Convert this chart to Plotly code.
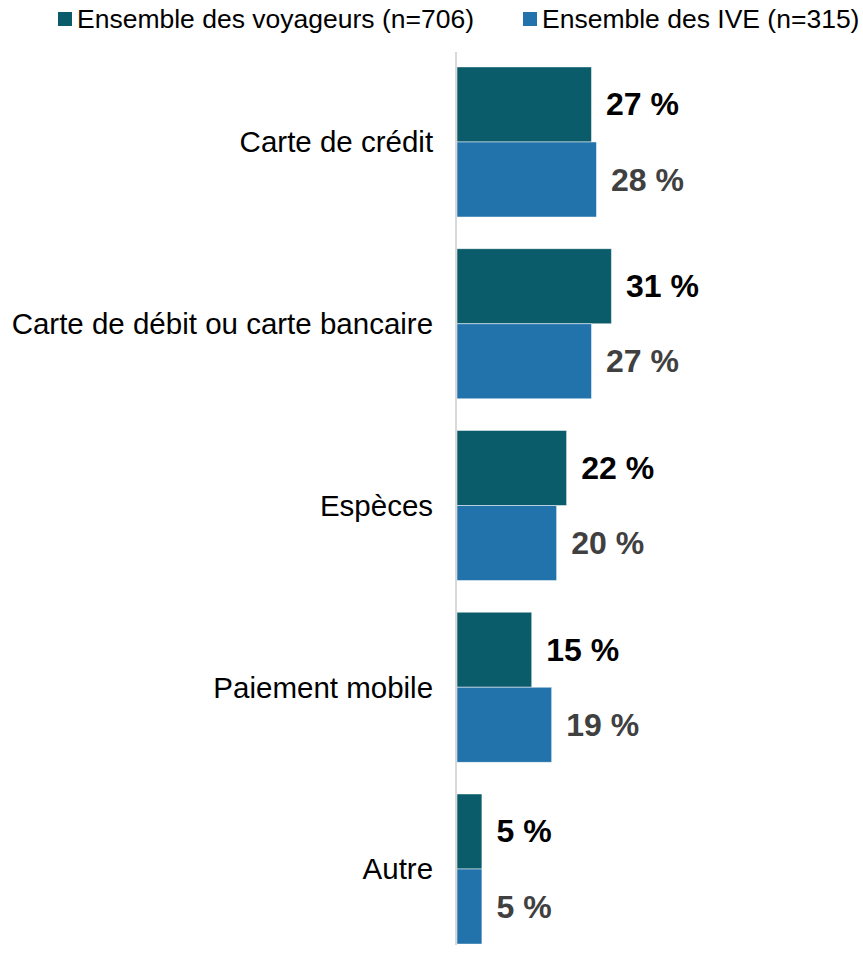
import plotly.graph_objects as go

# Moyens de paiement utilisés (%)
categories = ["Carte de crédit", "Carte de débit ou carte bancaire", "Espèces",
              "Paiement mobile", "Autre"]
voyageurs = [27, 31, 22, 15, 5]
ive = [28, 27, 20, 19, 5]
series_names = ["Ensemble des voyageurs (n=706)", "Ensemble des IVE (n=315)"]

DARK = "#0A5C6A"
BLUE = "#2272AB"
FONT = "Arial, Liberation Sans, sans-serif"

W, H = 863, 953
L, R, T, B = 457, 0, 52, 8


def px_x(px):
    # page pixel -> paper x
    return (px - L) / (W - L - R)


def px_y(py):
    # page pixel -> paper y
    return 1 - (py - T) / (H - T - B)


def labels(vals):
    return ["\u00a0\u200a" + f"{v} %" for v in vals]


fig = go.Figure()

fig.add_trace(go.Bar(
    name=series_names[0],
    y=categories,
    x=voyageurs,
    orientation='h',
    marker_color=DARK,
    text=labels(voyageurs),
    textposition='outside',
    textfont=dict(size=32, color="#000000", family=FONT, weight="bold"),
    cliponaxis=False,
))
fig.add_trace(go.Bar(
    name=series_names[1],
    y=categories,
    x=ive,
    orientation='h',
    marker_color=BLUE,
    text=labels(ive),
    textposition='outside',
    textfont=dict(size=32, color="#404040", family=FONT, weight="bold"),
    cliponaxis=False,
))

# legend drawn by hand so the square sits right next to the text
legend_items = [(58, 77, DARK, series_names[0]), (523, 542, BLUE, series_names[1])]
shapes = []
annotations = []
for sq_x, tx, col, name in legend_items:
    shapes.append(dict(type='rect', xref='paper', yref='paper',
                       x0=px_x(sq_x), x1=px_x(sq_x + 14),
                       y0=px_y(26), y1=px_y(12),
                       fillcolor=col, line_width=0))
    annotations.append(dict(text=name, xref='paper', yref='paper',
                            x=px_x(tx - 2), y=px_y(19), xanchor='left', yanchor='middle',
                            showarrow=False,
                            font=dict(size=26.5, color="#000000", family=FONT)))

fig.update_layout(
    width=W, height=H,
    margin=dict(l=L, r=R, t=T, b=B),
    barmode='group',
    bargap=0.174,
    bargroupgap=0,
    showlegend=False,
    template='plotly_white',
    plot_bgcolor='white',
    paper_bgcolor='white',
    font=dict(family=FONT, color="#000000"),
    shapes=shapes,
    annotations=annotations,
)

fig.update_xaxes(
    range=[0, 81.5],
    visible=False,
    showgrid=False,
    zeroline=False,
)
fig.update_yaxes(
    type='category',
    range=[4.418, -0.495],
    showgrid=False,
    zeroline=False,
    showline=True,
    linecolor="#D9D9D9",
    linewidth=2,
    ticks='',
    ticklabelstandoff=16,
    tickfont=dict(size=29.5, color="#000000", family=FONT),
)

# drop the default page margin so the figure fills the window
fig.write_html("out.html", config={'displayModeBar': False},
               post_script="document.body.style.margin='0';")
